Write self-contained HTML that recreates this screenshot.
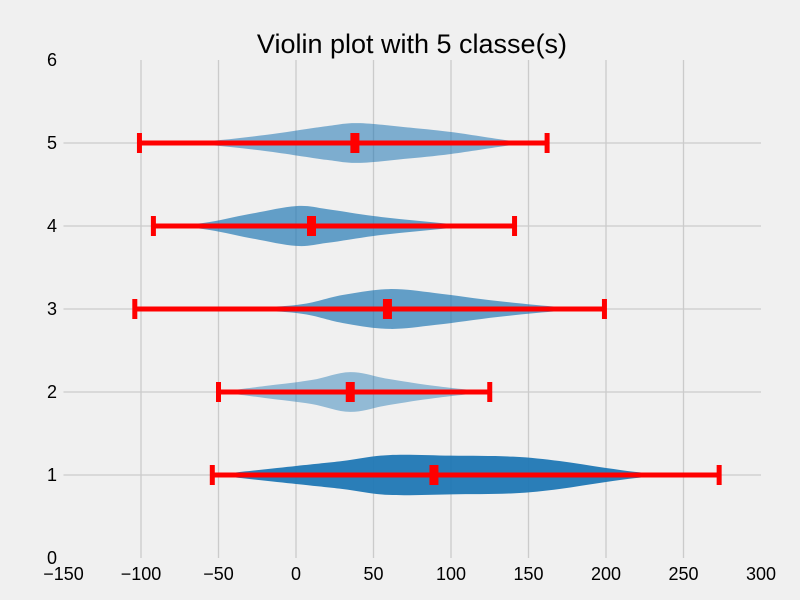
<!DOCTYPE html>
<html><head><meta charset="utf-8"><style>
body{margin:0;background:#f0f0f0;}
svg{display:block;font-family:"Liberation Sans","DejaVu Sans",sans-serif;}
</style></head><body>
<svg id="chart" width="800" height="600" viewBox="0 0 800 600">
<rect width="800" height="600" fill="#f0f0f0"/>
<text x="412" y="53" font-size="27" text-anchor="middle" fill="#000">Violin plot with 5 classe(s)</text>
<g id="grid"></g><g id="violins"></g><g id="bars"></g><g id="ticks"></g>
</svg>
<script>
const classes=[1,2,3,4,5];
const mins=[-54,-50,-104,-92,-101];
const maxs=[273,125,199,141,162];
const means=[89,35,59,10,38];
const densX=[
[-54,0,30,60,100,140,170,200,230,273],
[-50,-20,10,35,60,90,125],
[-104,-50,0,30,60,90,130,170,199],
[-92,-60,-30,0,20,50,80,110,141],
[-101,-60,-20,20,40,70,100,140,162]];
const densY=[
[0,0.45,0.7,1,0.97,0.92,0.7,0.35,0.08,0],
[0,0.3,0.6,1.0,0.65,0.3,0],
[0,0.03,0.2,0.7,1,0.8,0.4,0.1,0],
[0,0.15,0.6,1,0.85,0.5,0.25,0.05,0],
[0,0.08,0.4,0.85,1,0.8,0.55,0.1,0]];
const xTicks=[-150,-100,-50,0,50,100,150,200,250,300];
const yTicks=[0,1,2,3,4,5,6];
const opac=[0.95,0.45,0.68,0.68,0.55];
const NS="http://www.w3.org/2000/svg";
const xS=v=>296+v*1.55, yS=v=>558-v*83;
function mk(t,a,p){const e=document.createElementNS(NS,t);for(const k in a)e.setAttribute(k,a[k]);p.appendChild(e);return e;}
const G=document.getElementById('grid'),T=document.getElementById('ticks'),V=document.getElementById('violins'),B=document.getElementById('bars');
xTicks.forEach(v=>{
 if(v>-150&&v<300){const l=mk('line',{x1:xS(v),x2:xS(v),y1:yS(6),y2:yS(0),stroke:'#cbcbcb','stroke-width':1.3},G);
 
 }
 const t=mk('text',{x:xS(v),y:580,'font-size':18,'text-anchor':'middle',fill:'#000'},T);t.textContent=v<0?'\u2212'+(-v):v;
 
 
});
yTicks.forEach(v=>{
 if(v>0&&v<6){const l=mk('line',{x1:xS(-150),x2:xS(300),y1:yS(v),y2:yS(v),stroke:'#cbcbcb','stroke-width':1.3},G);
 
 }
 const t=mk('text',{x:57,y:yS(v)+6,'font-size':18,'text-anchor':'end',fill:'#000'},T);t.textContent=v;
 
 
});
function smooth(pts){let d='M'+pts[0][0]+','+pts[0][1];
 for(let i=0;i<pts.length-1;i++){const p0=pts[Math.max(i-1,0)],p1=pts[i],p2=pts[i+1],p3=pts[Math.min(i+2,pts.length-1)];
 d+=' C'+(p1[0]+(p2[0]-p0[0])/6)+','+(p1[1]+(p2[1]-p0[1])/6)+' '+(p2[0]-(p3[0]-p1[0])/6)+','+(p2[1]-(p3[1]-p1[1])/6)+' '+p2[0]+','+p2[1];}
 return d;}
classes.forEach((c,i)=>{
 const W=0.24;
 const top=densX[i].map((x,j)=>[xS(x),yS(c+densY[i][j]*W)]);
 const bot=densX[i].map((x,j)=>[xS(x),yS(c-densY[i][j]*W)]).reverse();
 const d=smooth(top)+' L'+smooth(bot).slice(1)+' Z';
 const p=mk('path',{d:d,fill:'#1f77b4','fill-opacity':opac[i]},V);
 
 
 const y=yS(c);
 const l=mk('line',{x1:xS(mins[i]),x2:xS(maxs[i]),y1:y,y2:y,stroke:'#ff0000','stroke-width':5},B);
 
 
 [mins[i],maxs[i]].forEach(v=>{const cap=mk('rect',{x:xS(v)-2.5,y:y-10,width:5,height:20,fill:'#ff0000'},B);
 
 });
 const m=mk('rect',{x:xS(means[i])-4.5,y:y-10,width:9,height:20,fill:'#ff0000'},B);
 
 
});
</script>
</body></html>
